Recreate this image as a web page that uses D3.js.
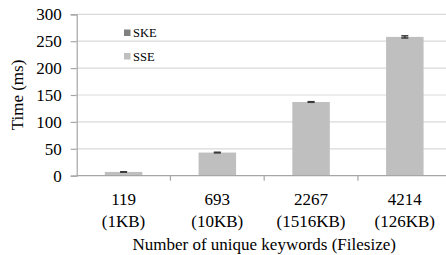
<!DOCTYPE html>
<html>
<head>
<meta charset="utf-8">
<script src="https://cdn.jsdelivr.net/npm/d3@7"></script>
<style>
    body { margin: 0; background: #fff; }
    svg text { font-family: "Liberation Serif", "Times New Roman", Times, "DejaVu Serif", serif; }
</style>
</head>
<body>
<svg id="chart" width="446" height="255"></svg>
<script>
(function (d3) {
    'use strict';

    // data
    var keywords = ['119', '693', '2267', '4214'];
    var fileSizes = ['(1KB)', '(10KB)', '(1516KB)', '(126KB)'];
    var sseTime = [7, 43, 137, 258];
    var sseError = [0.4, 0.6, 0.6, 2];
    var skeTime = [0, 0, 0, 0];
    var seriesNames = ['SKE', 'SSE'];
    var yTicks = [0, 50, 100, 150, 200, 250, 300];

    var svg = d3.select('#chart'),
        margin = { top: 14.3, left: 76.7 },
        plotRight = 451.7,
        plotBottom = 175.7;

    var x = d3.scaleBand().domain(keywords).range([margin.left, plotRight]).padding(0),
        y = d3.scaleLinear().domain([0, 300]).range([plotBottom, margin.top]),
        color = d3.scaleOrdinal().domain(seriesNames).range(['#808080', '#bfbfbf']);

    var barWidth = x.bandwidth() * 0.4;

    // gridlines
    svg.append('g')
        .selectAll('line')
        .data(yTicks.filter(function (d) { return d > 0; }))
        .enter().append('line')
        .attr('x1', margin.left).attr('x2', plotRight)
        .attr('y1', function (d) { return y(d); })
        .attr('y2', function (d) { return y(d); })
        .attr('stroke', '#d9d9d9')
        .attr('stroke-width', 1.2);

    // y axis
    var yAxis = svg.append('g')
        .attr('transform', 'translate(' + margin.left + ',0)')
        .call(d3.axisLeft(y).tickValues(yTicks).tickSize(6).tickPadding(9));
    yAxis.attr('font-family', null).attr('font-size', 17);
    yAxis.select('.domain').attr('stroke', '#a6a6a6').attr('stroke-width', 1.2);
    yAxis.selectAll('.tick line').attr('stroke', '#a6a6a6').attr('stroke-width', 1.2);
    yAxis.selectAll('.tick text').attr('fill', '#000');

    // bars (SKE stacked under SSE)
    var rows = keywords.map(function (k, i) {
        return { key: k, SKE: skeTime[i], SSE: sseTime[i], err: sseError[i] };
    });
    var stacked = d3.stack().keys(seriesNames)(rows);

    svg.append('g')
        .selectAll('g')
        .data(stacked)
        .enter().append('g')
        .attr('fill', function (d) { return color(d.key); })
        .selectAll('rect')
        .data(function (d) { return d; })
        .enter().append('rect')
        .attr('x', function (d) { return x(d.data.key) + (x.bandwidth() - barWidth) / 2; })
        .attr('width', barWidth)
        .attr('y', function (d) { return y(d[1]); })
        .attr('height', function (d) { return y(d[0]) - y(d[1]); });

    // error bars
    var err = svg.append('g')
        .selectAll('g')
        .data(rows)
        .enter().append('g')
        .attr('stroke', '#3a3a3a')
        .attr('stroke-width', 1.5);

    function cx(d) { return x(d.key) + x.bandwidth() / 2; }
    function top(d) { return d.SKE + d.SSE; }

    err.append('line')
        .attr('x1', cx).attr('x2', cx)
        .attr('y1', function (d) { return y(top(d) + d.err); })
        .attr('y2', function (d) { return y(top(d) - d.err); });
    err.append('line')
        .attr('x1', function (d) { return cx(d) - 3.5; })
        .attr('x2', function (d) { return cx(d) + 3.5; })
        .attr('y1', function (d) { return y(top(d) + d.err); })
        .attr('y2', function (d) { return y(top(d) + d.err); });
    err.append('line')
        .attr('x1', function (d) { return cx(d) - 3.5; })
        .attr('x2', function (d) { return cx(d) + 3.5; })
        .attr('y1', function (d) { return y(top(d) - d.err); })
        .attr('y2', function (d) { return y(top(d) - d.err); });

    // x axis line and boundary ticks
    svg.append('line')
        .attr('x1', margin.left).attr('x2', plotRight)
        .attr('y1', plotBottom).attr('y2', plotBottom)
        .attr('stroke', '#a6a6a6').attr('stroke-width', 1.2);
    svg.append('g')
        .selectAll('line')
        .data(keywords.slice(1))
        .enter().append('line')
        .attr('x1', function (d) { return x(d); })
        .attr('x2', function (d) { return x(d); })
        .attr('y1', plotBottom).attr('y2', plotBottom + 5)
        .attr('stroke', '#a6a6a6').attr('stroke-width', 1.2);

    // x labels, two lines
    var xl = svg.append('g')
        .selectAll('text')
        .data(keywords)
        .enter().append('text')
        .attr('text-anchor', 'middle')
        .attr('font-size', 17)
        .attr('fill', '#000');
    xl.append('tspan')
        .attr('x', function (d) { return x(d) + x.bandwidth() / 2; })
        .attr('y', 205)
        .text(function (d) { return d; });
    xl.append('tspan')
        .attr('x', function (d) { return x(d) + x.bandwidth() / 2; })
        .attr('y', 227)
        .text(function (d, i) { return fileSizes[i]; });

    // axis titles
    svg.append('text')
        .attr('x', (margin.left + plotRight) / 2)
        .attr('y', 250)
        .attr('text-anchor', 'middle')
        .attr('font-size', 17)
        .text('Number of unique keywords (Filesize)');

    svg.append('text')
        .attr('transform', 'translate(23,95) rotate(-90)')
        .attr('text-anchor', 'middle')
        .attr('font-size', 17)
        .text('Time (ms)');

    // legend
    var legend = svg.selectAll('.legend')
        .data(seriesNames)
        .enter().append('g')
        .attr('class', 'legend')
        .attr('transform', function (d, i) { return 'translate(124,' + (29.5 + i * 23.5) + ')'; });

    legend.append('rect')
        .attr('width', 6.5)
        .attr('height', 6.5)
        .attr('fill', color);

    legend.append('text')
        .attr('x', 9)
        .attr('y', 7.5)
        .attr('font-size', 12.5)
        .text(function (d) { return d; });
})(window.d3);
</script>
</body>
</html>
